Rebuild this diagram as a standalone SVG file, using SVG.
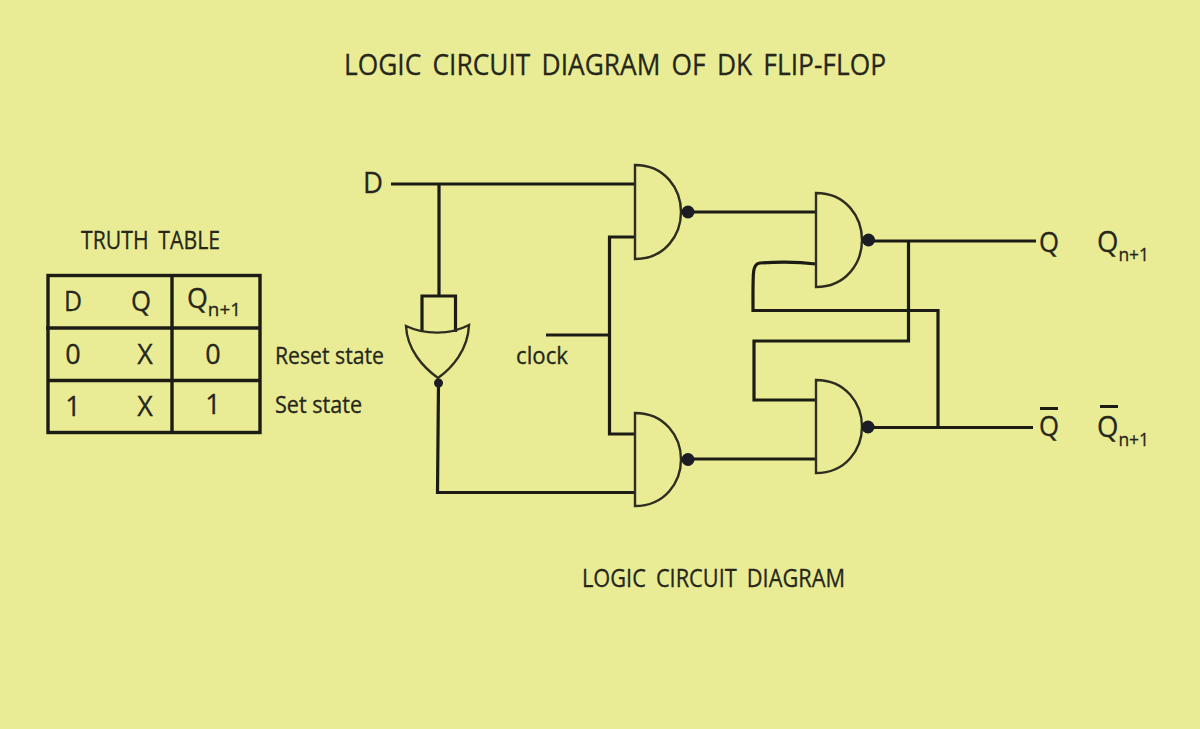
<svg xmlns="http://www.w3.org/2000/svg" width="1200" height="729" viewBox="0 0 1200 729">
<style>
text{font-family:"Open Sans","Noto Sans","Liberation Sans",sans-serif;fill:#26261b;stroke:#26261b;stroke-width:.3;font-size:24px}
.sp{word-spacing:5px}
.m{text-anchor:middle}
.w{fill:none;stroke:#1c1c14;stroke-width:3.2}
.g{fill:none;stroke:#2e2d20;stroke-width:2.4}
.t{fill:none;stroke:#1c1c14;stroke-width:3.4}
.b{fill:#1c1c24}
.c{font-size:27px}
.sub{font-size:19px}
</style>
<rect width="1200" height="729" fill="#e9ec94"/>
<text class="sp" x="344" y="75" style="font-size:30px" textLength="542" lengthAdjust="spacingAndGlyphs">LOGIC  CIRCUIT  DIAGRAM  OF  DK  FLIP-FLOP</text>
<text class="sp" x="582" y="587" style="font-size:25px" textLength="263" lengthAdjust="spacingAndGlyphs">LOGIC  CIRCUIT  DIAGRAM</text>
<g id="truth-table">
<text class="sp" x="81" y="249" style="font-size:25px" textLength="139" lengthAdjust="spacingAndGlyphs">TRUTH  TABLE</text>
<rect class="t" x="48" y="275.500" width="212" height="157"/>
<path class="t" d="M46 328H260M48 380.500H260M172 275V432"/>
<text x="64" y="311" class="c" textLength="18" lengthAdjust="spacingAndGlyphs">D</text>
<text x="131" y="311" class="c" textLength="20" lengthAdjust="spacingAndGlyphs">Q</text>
<text x="187" y="308" class="c" textLength="54" lengthAdjust="spacingAndGlyphs">Q<tspan class="sub" dy="8">n+1</tspan></text>
<text class="m" x="73" y="364" style="font-size:27px">0</text><text class="m" x="145" y="364" style="font-size:27px">X</text><text class="m" x="213" y="364" style="font-size:27px">0</text>
<text class="m" x="73" y="416" style="font-size:27px">1</text><text class="m" x="145" y="416" style="font-size:27px">X</text><text class="m" x="213" y="414" style="font-size:27px">1</text>
<text x="275" y="364" style="font-size:24px" textLength="109" lengthAdjust="spacingAndGlyphs">Reset state</text>
<text x="275" y="413" style="font-size:24px" textLength="87" lengthAdjust="spacingAndGlyphs">Set state</text>
</g>
<g id="connectors">
<path class="w" d="M391 184H635M439 184V296"/>
<path class="w" d="M438.500 383L437.500 492.500H635"/>
<path class="w" d="M546 335H609M635 237H609.500V434H635"/>
<path class="w" d="M688 212H816M688 459H816"/>
<path class="w" d="M868 241H1036M908.500 241V341H754V400H816"/>
<path class="w" d="M816 264C800 262 775 262 760 263C752 264 753 272 753 310.500H938V427"/>
<path class="w" d="M868 427.500H1033"/>
</g>
<g id="nor-gate">
<path class="w" d="M422 332V296H455.500V332"/>
<path class="g" d="M406 326C425 335 450 335 469 325C468 350 452 368 438 378C424 368 407 350 406 326Z"/>
<circle class="b" cx="438.500" cy="383" r="4.500"/>
</g>
<g id="nand-1"><path class="g" d="M635 165V259C665 259 681 235 681 212C681 189 665 165 635 165Z"/><circle class="b" cx="688" cy="212" r="6.500"/></g>
<g id="nand-2"><path class="g" d="M635 413V506C665 506 681 482 681 459.500C681 437 665 413 635 413Z"/><circle class="b" cx="688" cy="459.500" r="6.500"/></g>
<g id="nand-3"><path class="g" d="M816 193V287C846 287 862 263 862 240C862 217 846 193 816 193Z"/><circle class="b" cx="868.500" cy="240" r="6.500"/></g>
<g id="nand-4"><path class="g" d="M816 380V473C846 473 862 449 862 426.500C862 404 846 380 816 380Z"/><circle class="b" cx="868" cy="427" r="6.500"/></g>
<g id="labels">
<text x="363" y="193" style="font-size:29px" textLength="20" lengthAdjust="spacingAndGlyphs">D</text>
<text x="516" y="364" style="font-size:24px" textLength="52" lengthAdjust="spacingAndGlyphs">clock</text>
<text x="1039" y="252" class="c" textLength="20" lengthAdjust="spacingAndGlyphs">Q</text>
<text x="1097" y="252" style="font-size:30px" textLength="52" lengthAdjust="spacingAndGlyphs">Q<tspan class="sub" dy="9">n+1</tspan></text>
<text x="1039" y="436" class="c" textLength="20" lengthAdjust="spacingAndGlyphs">Q</text>
<path d="M1040 408.500H1058M1100 406.500H1118" stroke="#1c1c14" stroke-width="3" fill="none"/>
<text x="1097" y="437" style="font-size:30px" textLength="52" lengthAdjust="spacingAndGlyphs">Q<tspan class="sub" dy="9">n+1</tspan></text>
</g>
</svg>
